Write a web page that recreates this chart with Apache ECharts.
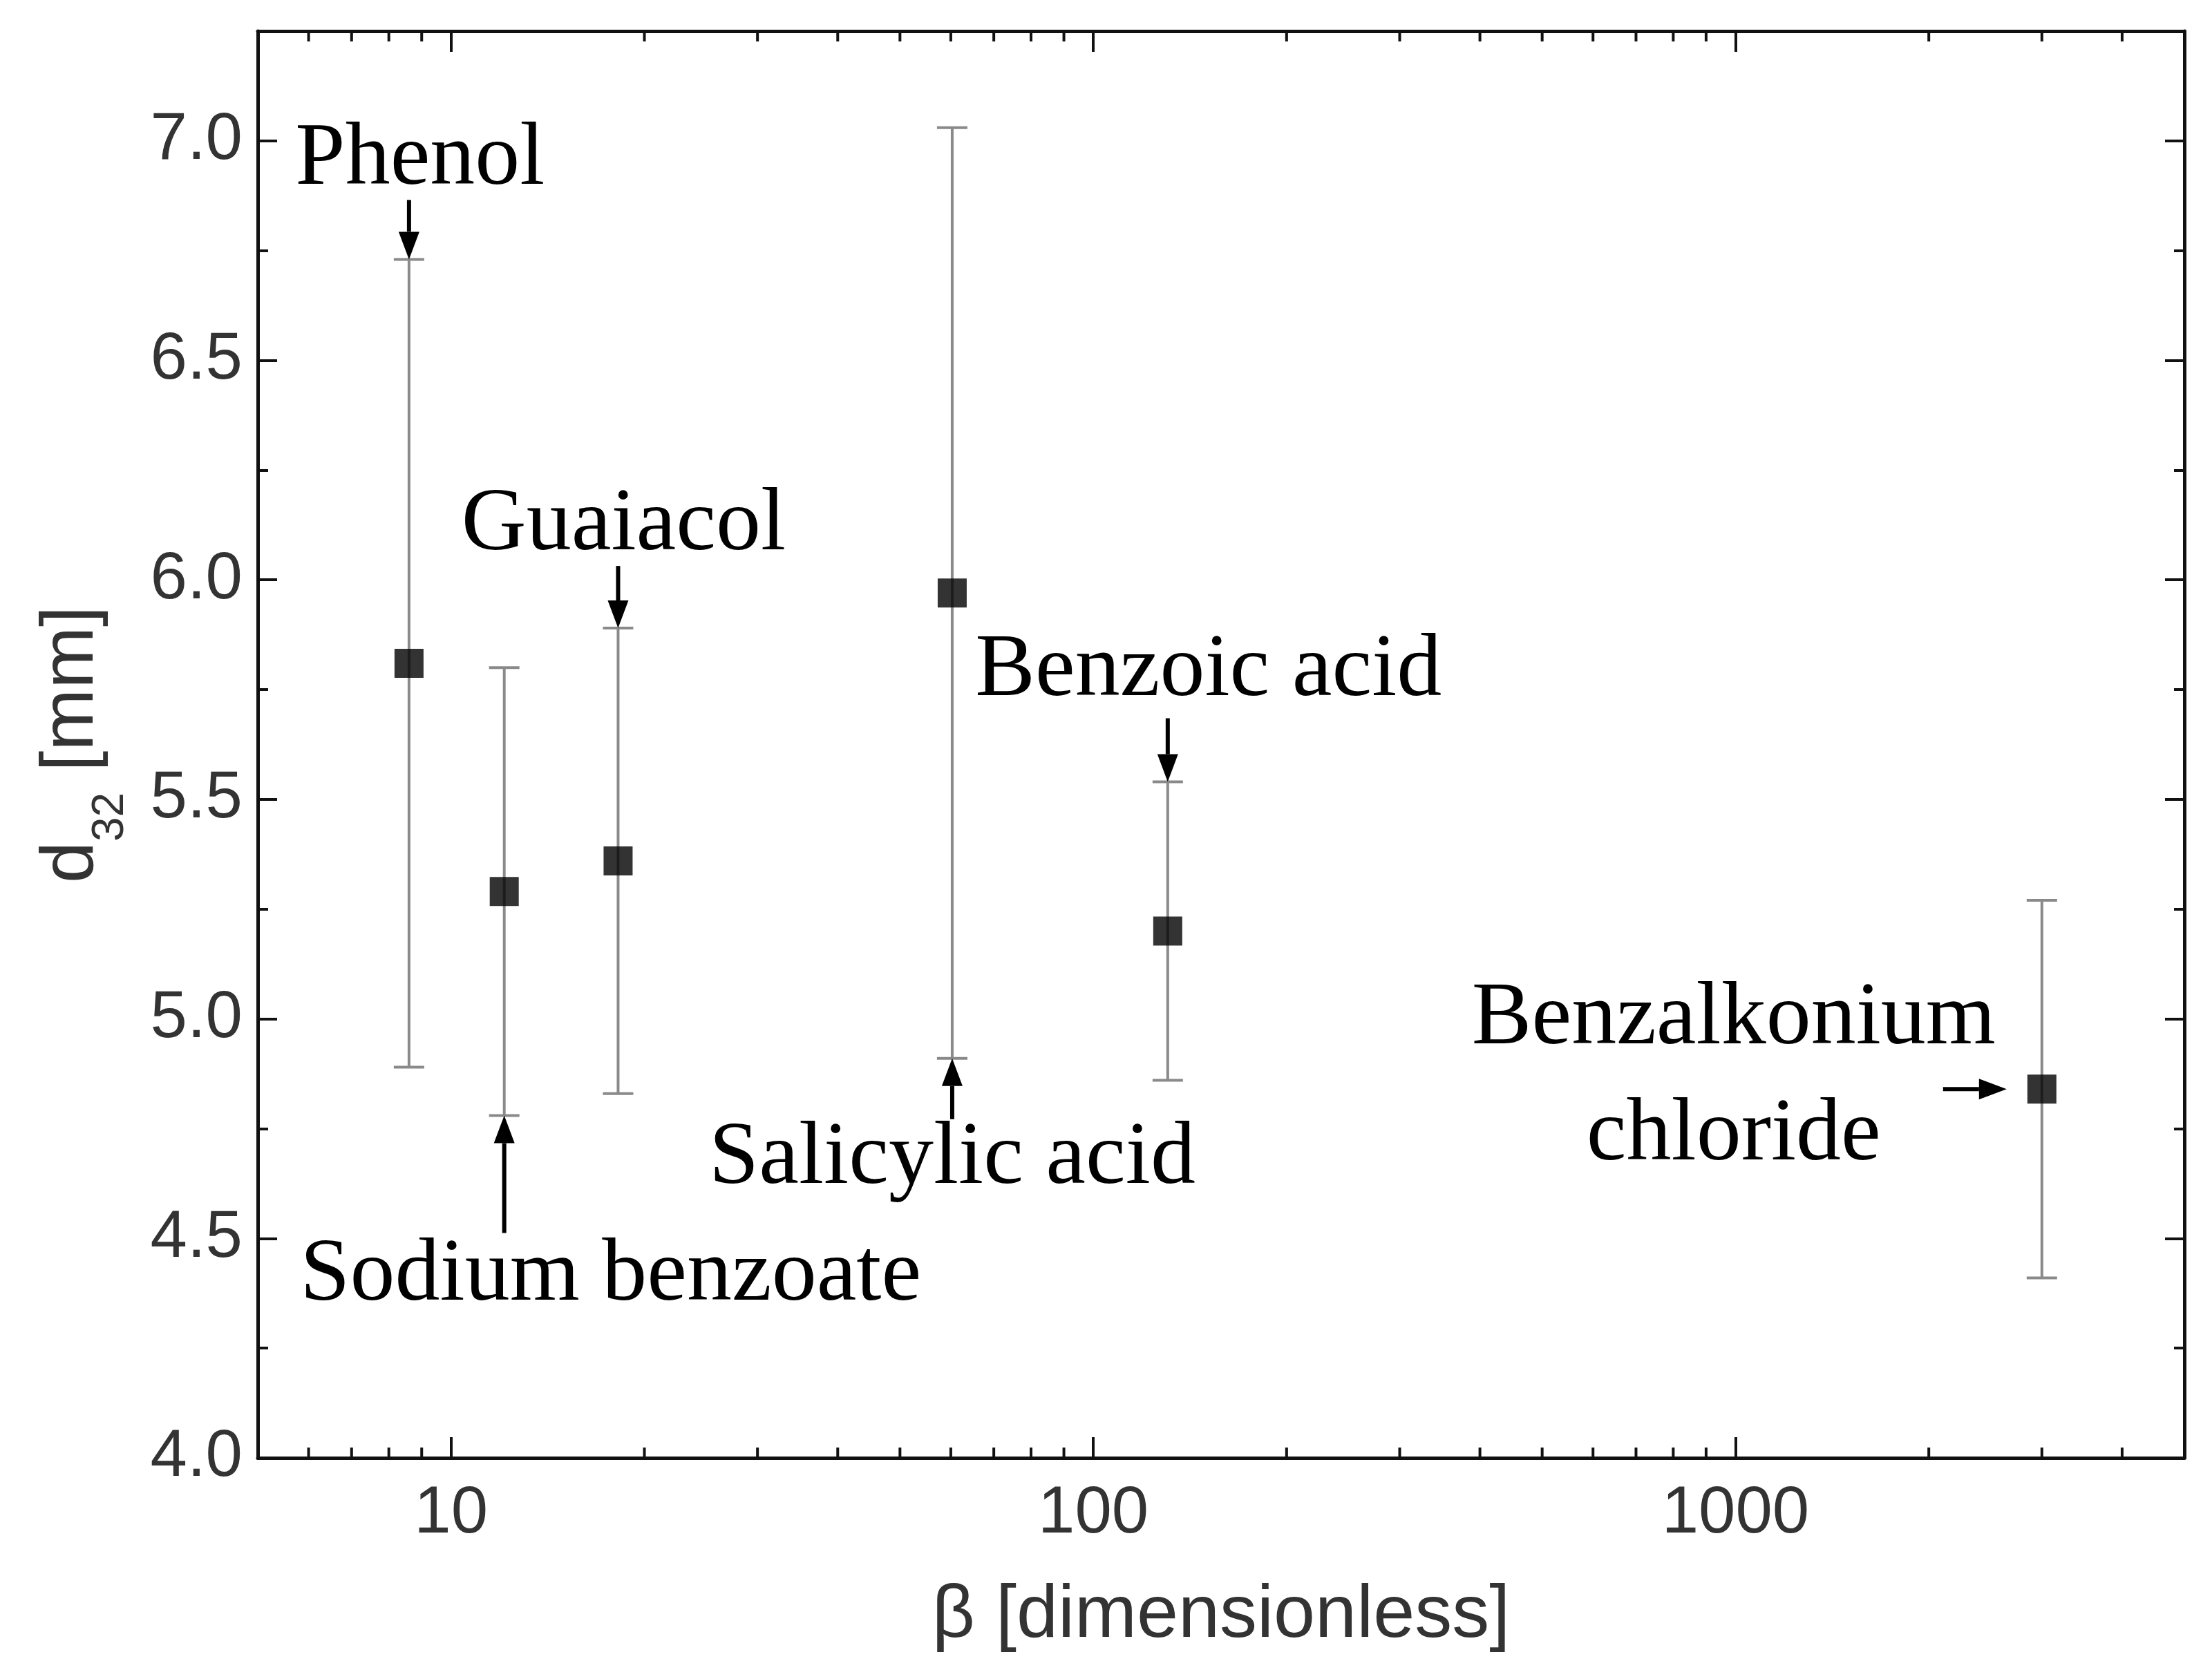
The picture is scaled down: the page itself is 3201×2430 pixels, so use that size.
<!DOCTYPE html>
<html><head><meta charset="utf-8">
<script src="https://cdn.jsdelivr.net/npm/echarts@6/dist/echarts.min.js"></script>
<style>html,body{margin:0;padding:0;background:#fff}#c{width:3201px;height:2430px}</style>
</head><body><div id="c"></div>
<script>
// ---- data ----
const compounds = ['Phenol','Sodium benzoate','Guaiacol','Salicylic acid','Benzoic acid','Benzalkonium chloride'];
const beta = [8.6, 12.1, 18.2, 60.3, 130.6, 3000];
const d32 = [5.81, 5.29, 5.36, 5.97, 5.20, 4.84];
const errLow = [4.89, 4.78, 4.83, 4.91, 4.86, 4.41];
const errHigh = [6.73, 5.80, 5.89, 7.03, 5.54, 5.27];
const xMinorTicks = [6,7,8,9,20,30,40,50,60,70,80,90,200,300,400,500,600,700,800,900,2000,3000,4000];
const annotationText = [['Phenol'],['Sodium benzoate'],['Guaiacol'],['Salicylic acid'],['Benzoic acid'],['Benzalkonium','chloride']];
// ---- layout (pixels) ----
const annLayout = [
  {anchor:'high', dir:'down', len:86, tipDx:0, tx:[16], ty:[-144]},
  {anchor:'low', dir:'up', len:170, tipDx:0, tx:[154], ty:[232]},
  {anchor:'high', dir:'down', len:90, tipDx:0, tx:[8], ty:[-148]},
  {anchor:'low', dir:'up', len:88, tipDx:0, tx:[0], ty:[146]},
  {anchor:'high', dir:'down', len:92, tipDx:0, tx:[59], ty:[-160]},
  {anchor:'point', dir:'right', len:92, tipDx:-51, tx:[-395,-395], ty:[-100,68]}
];

const chart = echarts.init(document.getElementById('c'));
const axisCommon = {
  axisLine:{show:true,lineStyle:{color:'#111',width:5}},
  splitLine:{show:false}
};
const errData = beta.map((b,i)=>[b, errLow[i], errHigh[i]]);
const ptData = beta.map((b,i)=>[b, d32[i]]);
const annData = beta.map((b,i)=>[b, annLayout[i].anchor==='high'?errHigh[i]:annLayout[i].anchor==='low'?errLow[i]:d32[i], i]);

chart.setOption({
  animation:false,
  backgroundColor:'#fff',
  grid:{left:373,right:40,top:45,bottom:320},
  xAxis:[{
    type:'log', logBase:10, min:5, max:5000, position:'bottom',
    ...axisCommon,
    axisTick:{show:true,inside:true,length:30,lineStyle:{color:'#111',width:4}},
    axisLabel:{color:'#333',fontSize:96,fontFamily:'Liberation Sans',margin:34,
      formatter:v=>([10,100,1000].includes(Math.round(v))?String(Math.round(v)):'')},
    name:'β [dimensionless]', nameLocation:'middle', nameGap:175,
    nameTextStyle:{color:'#333',fontSize:108,fontFamily:'Liberation Sans'}
  },{
    type:'log', logBase:10, min:5, max:5000, position:'top',
    ...axisCommon,
    axisTick:{show:true,inside:true,length:30,lineStyle:{color:'#111',width:4}},
    axisLabel:{show:false}
  }],
  yAxis:[{
    type:'value', min:4.0, max:7.25, interval:0.5, position:'left',
    ...axisCommon,
    axisTick:{show:true,inside:true,length:28,lineStyle:{color:'#111',width:4}},
    minorTick:{show:true,splitNumber:2,length:15,lineStyle:{color:'#111',width:4}},
    axisLabel:{color:'#333',fontSize:96,fontFamily:'Liberation Sans',margin:22,
      formatter:v=>(v<=7.0001?v.toFixed(1):'')},
    name:'{a|d}{b|32}{a| [mm]}', nameLocation:'middle', nameGap:215, nameRotate:90,
    nameTextStyle:{rich:{a:{color:'#333',fontSize:108,fontFamily:'Liberation Sans'},
      b:{color:'#333',fontSize:64,fontFamily:'Liberation Sans',verticalAlign:'bottom',padding:[0,0,-34,0]}}}
  },{
    type:'value', min:4.0, max:7.25, interval:0.5, position:'right',
    ...axisCommon,
    axisTick:{show:true,inside:true,length:28,lineStyle:{color:'#111',width:4}},
    minorTick:{show:true,splitNumber:2,length:15,lineStyle:{color:'#111',width:4}},
    axisLabel:{show:false}
  }],
  series:[
    {type:'custom', coordinateSystem:'cartesian2d', data:xMinorTicks.map(v=>[v,4.0]), clip:false, silent:true,
     renderItem:(p,api)=>{
       const b=api.coord([api.value(0),4.0]); const t=api.coord([api.value(0),7.25]);
       const st={stroke:'#111',lineWidth:4};
       return {type:'group',children:[
         {type:'line',shape:{x1:b[0],y1:b[1],x2:b[0],y2:b[1]-15},style:st},
         {type:'line',shape:{x1:t[0],y1:t[1],x2:t[0],y2:t[1]+15},style:st}]};
     }},
    {type:'custom', coordinateSystem:'cartesian2d', data:errData, silent:true,
     renderItem:(p,api)=>{
       const lo=api.coord([api.value(0),api.value(1)]); const hi=api.coord([api.value(0),api.value(2)]);
       const st={stroke:'#8a8a8a',lineWidth:4}; const w=22;
       return {type:'group',children:[
         {type:'line',shape:{x1:lo[0],y1:lo[1],x2:hi[0],y2:hi[1]},style:st},
         {type:'line',shape:{x1:lo[0]-w,y1:lo[1],x2:lo[0]+w,y2:lo[1]},style:st},
         {type:'line',shape:{x1:hi[0]-w,y1:hi[1],x2:hi[0]+w,y2:hi[1]},style:st}]};
     }},
    {type:'scatter', data:ptData, symbol:'rect', symbolSize:42, itemStyle:{color:'#000'}, z:5},
    {type:'custom', coordinateSystem:'cartesian2d', data:annData, clip:false, silent:true, z:6,
     renderItem:(p,api)=>{
       const i=api.value(2); const L=annLayout[i];
       const c=api.coord([api.value(0),api.value(1)]);
       const tx=c[0]+L.tipDx, ty=c[1];
       const ah=40, aw=15; let sx,sy,tri;
       if(L.dir==='down'){sx=tx;sy=ty-L.len;tri=[[tx,ty],[tx-aw,ty-ah],[tx+aw,ty-ah]];}
       else if(L.dir==='up'){sx=tx;sy=ty+L.len;tri=[[tx,ty],[tx-aw,ty+ah],[tx+aw,ty+ah]];}
       else {sx=tx-L.len;sy=ty;tri=[[tx,ty],[tx-ah,ty-aw],[tx-ah,ty+aw]];}
       const ch=[
         {type:'line',shape:{x1:sx,y1:sy,x2:(tri[1][0]+tri[2][0])/2,y2:(tri[1][1]+tri[2][1])/2},style:{stroke:'#000',lineWidth:6}},
         {type:'polygon',shape:{points:tri},style:{fill:'#000'}}];
       annotationText[i].forEach((s,k)=>ch.push({type:'text',x:tx+L.tx[k],y:ty+L.ty[k],
         style:{text:s,fill:'#000',font:'130px "Liberation Serif"',align:'center',verticalAlign:'middle'}}));
       return {type:'group',children:ch};
     }}
  ]
});
</script></body></html>
